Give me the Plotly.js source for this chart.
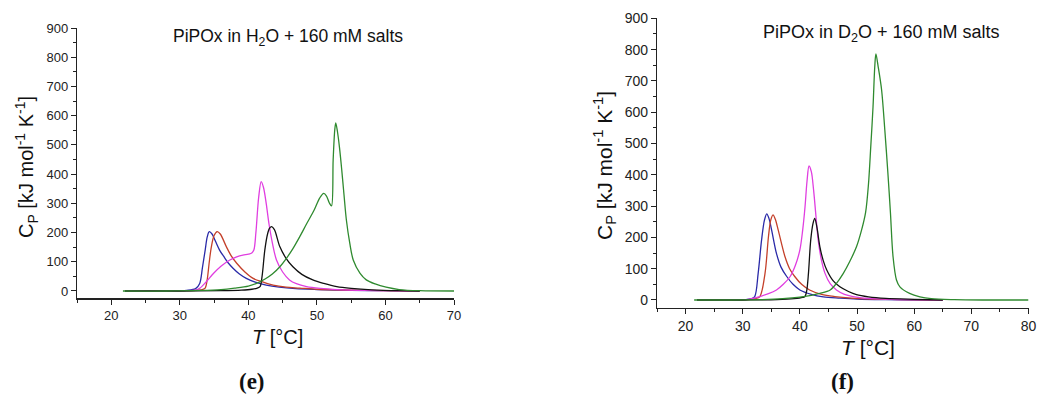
<!DOCTYPE html>
<html>
<head>
<meta charset="utf-8">
<script src="https://cdn.plot.ly/plotly-3.0.1.min.js"></script>
<style>
html,body{margin:0;padding:0;background:#fff;}
#chart{width:1045px;height:396px;}
</style>
</head>
<body>
<div id="chart"></div>
<script>
// ---------- Panel (e): PiPOx in H2O + 160 mM salts ----------
const h2oBlueT  = [22, 28, 31, 32.3, 32.9, 33.3, 33.7, 34.0, 34.3, 34.7, 35.2, 35.8, 36.5, 37.1, 37.8, 38.7, 39.7, 41, 42.6, 44.5, 46.9, 50, 55, 60, 65];
const h2oBlueCp = [0, 0, 2, 8, 26, 80, 140, 185, 203, 195, 170, 140, 115, 95, 77, 58, 43, 30, 20, 13, 8, 5, 2, 1, 0];

const h2oRedT  = [22, 28, 31, 32.8, 33.3, 33.7, 34.0, 34.3, 34.6, 35.0, 35.45, 35.9, 36.8, 37.5, 38.3, 39.5, 40.7, 42.2, 43.6, 45.5, 47.5, 50, 55, 60, 65];
const h2oRedCp = [0, 0, 1, 3, 5, 10, 40, 100, 151, 190, 203, 195, 151, 120, 95, 65, 43, 30, 20, 13, 10, 6, 3, 1, 0];

const h2oMagT  = [22, 28, 31, 32.3, 32.9, 33.8, 34.9, 36, 37.3, 38.3, 39.2, 40.0, 40.5, 40.8, 41.1, 41.5, 41.87, 42.2, 42.6, 43.0, 43.5, 44.1, 45, 46, 47, 48.5, 50.5, 53, 57, 61, 65];
const h2oMagCp = [0, 0, 1, 3, 9, 30, 60, 85, 106, 117, 123, 126, 130, 140, 200, 320, 374, 355, 300, 231, 165, 106, 65, 38, 25, 15, 9, 5, 2, 1, 0];

const h2oBlackT  = [22, 30, 36, 39, 40.5, 41.3, 41.7, 42.0, 42.4, 42.8, 43.1, 43.4, 43.8, 44.6, 45.5, 46.5, 47.8, 49.4, 51, 52.9, 55, 58, 62, 65];
const h2oBlackCp = [0, 0, 1, 3, 6, 10, 15, 50, 140, 195, 215, 220, 210, 151, 112, 83, 57, 38, 26, 15, 9, 4, 1, 0];

const h2oGreenT  = [21.7, 28, 33, 36, 38, 40, 41.2, 42.5, 43.5, 44.6, 45.5, 46.5, 47.5, 48.5, 49.6, 50.4, 51.0, 51.4, 51.8, 52.13, 52.37, 52.6, 52.75, 53.0, 53.3, 53.6, 53.95, 54.3, 54.8, 55.3, 56.3, 57.2, 58.5, 60.1, 62, 65, 70];
const h2oGreenCp = [0, 0, 2, 5, 10, 17, 26, 42, 58, 83, 110, 145, 186, 230, 277, 318, 334, 325, 302, 291, 448, 550, 575, 545, 490, 420, 330, 243, 163, 106, 60, 38, 24, 13, 5, 1, 0];

// ---------- Panel (f): PiPOx in D2O + 160 mM salts ----------
const d2oBlueT  = [22, 28, 30.5, 31.5, 32.1, 32.7, 33.3, 33.8, 34.2, 34.6, 35.05, 35.9, 36.7, 37.7, 38.8, 40.0, 42, 44.1, 47, 50, 55, 60, 65];
const d2oBlueCp = [0, 0, 1, 4, 11, 85, 192, 255, 275, 260, 224, 149, 105, 75, 50, 32, 18, 10, 6, 3, 1, 0, 0];

const d2oRedT  = [22, 28, 31, 32.2, 33.0, 33.9, 34.5, 34.9, 35.3, 35.7, 36.2, 37.4, 38.2, 39.1, 40.3, 41.7, 43.8, 46.1, 49, 53, 58, 65];
const d2oRedCp = [0, 0, 1, 4, 11, 85, 202, 255, 272, 258, 224, 138, 100, 75, 50, 32, 18, 11, 6, 3, 1, 0];

const d2oMagT  = [22, 28, 31, 33, 34.5, 35.9, 37.1, 38.3, 39.2, 40.0, 40.5, 40.9, 41.25, 41.6, 42.0, 42.4, 42.8, 43.2, 43.8, 44.4, 45.3, 46.4, 47.8, 49.3, 52, 56, 60, 65];
const d2oMagCp = [0, 0, 2, 11, 20, 32, 50, 75, 110, 160, 225, 298, 380, 428, 410, 351, 270, 192, 125, 85, 52, 32, 18, 11, 5, 2, 1, 0];

const d2oBlackT  = [22, 30, 36, 39, 40.5, 40.9, 41.2, 41.5, 41.9, 42.3, 42.6, 43.0, 43.5, 44.1, 44.7, 45.8, 47.0, 48.5, 49.9, 52, 55, 60, 65];
const d2oBlackCp = [0, 0, 1, 4, 8, 11, 30, 85, 192, 245, 261, 230, 170, 125, 96, 62, 42, 27, 17, 10, 5, 2, 0];

const d2oGreenT  = [21.5, 28, 33, 37, 40, 42, 43.5, 45.3, 46.4, 47.6, 48.7, 49.9, 50.8, 51.5, 52.0, 52.4, 52.8, 53.1, 53.3, 53.7, 54.3, 54.86, 55.4, 55.85, 56.3, 56.9, 57.5, 59.2, 61, 63, 67, 72, 80];
const d2oGreenCp = [0, 0, 1, 4, 9, 15, 21, 32, 53, 85, 122, 170, 224, 280, 370, 490, 618, 745, 786, 745, 671, 543, 405, 277, 138, 64, 42, 21, 10, 4, 1, 0, 0];

// tick values
const xTicksE = [20, 30, 40, 50, 60, 70];
const xTicksF = [20, 30, 40, 50, 60, 70, 80];
const yTicks  = [0, 100, 200, 300, 400, 500, 600, 700, 800, 900];

const COL = {blue:'#2a2aa8', red:'#c4402a', mag:'#e03ee0', black:'#111111', green:'#2f8a2f'};

function tr(x, y, c, xa, ya){
  return {x:x, y:y, type:'scatter', mode:'lines', xaxis:xa, yaxis:ya,
          line:{color:c, width:1.3, shape:'spline', smoothing:0.9}, hoverinfo:'skip', showlegend:false};
}

const data = [
  tr(h2oBlueT, h2oBlueCp, COL.blue, 'x', 'y'),
  tr(h2oRedT, h2oRedCp, COL.red, 'x', 'y'),
  tr(h2oMagT, h2oMagCp, COL.mag, 'x', 'y'),
  tr(h2oBlackT, h2oBlackCp, COL.black, 'x', 'y'),
  tr(h2oGreenT, h2oGreenCp, COL.green, 'x', 'y'),
  tr(d2oBlueT, d2oBlueCp, COL.blue, 'x2', 'y2'),
  tr(d2oRedT, d2oRedCp, COL.red, 'x2', 'y2'),
  tr(d2oMagT, d2oMagCp, COL.mag, 'x2', 'y2'),
  tr(d2oBlackT, d2oBlackCp, COL.black, 'x2', 'y2'),
  tr(d2oGreenT, d2oGreenCp, COL.green, 'x2', 'y2')
];

const W = 1045, H = 396;
const px = v => v / W;
const py = v => 1 - v / H;
const tickFont = {family:'Liberation Sans, Arial, sans-serif', size:13, color:'#222'};
const tickFont2 = {family:'Liberation Sans, Arial, sans-serif', size:14, color:'#222'};

function xax(dom, rng, ticks, anchor, f){
  return {domain:dom, range:rng, anchor:anchor, tickmode:'array', tickvals:ticks,
    ticks:'outside', ticklen:5, tickwidth:1, tickcolor:'#222', showline:true, linecolor:'#222', linewidth:1.2,
    showgrid:false, zeroline:false, tickfont:f, fixedrange:true,
    minor:{tickmode:'linear', tick0:15, dtick:10, ticks:'outside', ticklen:3, tickcolor:'#222', showgrid:false}};
}
function yax(dom, anchor, f){
  return {domain:dom, range:[-25, 900], anchor:anchor, tickmode:'array', tickvals:yTicks,
    ticks:'outside', ticklen:5, tickwidth:1, tickcolor:'#222', showline:true, linecolor:'#222', linewidth:1.2,
    showgrid:false, zeroline:false, tickfont:f, fixedrange:true,
    minor:{tickmode:'linear', tick0:50, dtick:100, ticks:'outside', ticklen:3, tickcolor:'#222', showgrid:false}};
}

const sans = 'Liberation Sans, Arial, sans-serif';
const serif = 'Liberation Serif, Times New Roman, serif';
function ann(text, x, y, size, extra){
  return Object.assign({text:text, xref:'paper', yref:'paper', x:px(x), y:py(y), xanchor:'center', yanchor:'middle',
    showarrow:false, font:{family:sans, size:size, color:'#111'}}, extra||{});
}

const yTitle = 'C<sub>P</sub> [kJ mol<sup>-1</sup> K<sup>-1</sup>]';
const layout = {
  width:W, height:H, margin:{l:0, r:0, t:0, b:0},
  paper_bgcolor:'#fff', plot_bgcolor:'#fff', showlegend:false,
  xaxis: xax([px(77), px(454)], [15, 70], xTicksE, 'y', tickFont),
  yaxis: yax([py(298.3), py(28)], 'x', tickFont),
  xaxis2: xax([px(657), px(1028.5)], [15, 80], xTicksF, 'y2', tickFont2),
  yaxis2: yax([py(307.8), py(18.3)], 'x2', tickFont2),
  annotations:[
    ann('PiPOx in H<sub>2</sub>O + 160 mM salts', 288, 38, 17.5),
    ann('PiPOx in D<sub>2</sub>O + 160 mM salts', 881, 33, 18),
    ann(yTitle, 26, 167, 20, {textangle:-90}),
    ann(yTitle, 605, 166, 21, {textangle:-90}),
    ann('<i>T</i> [°C]', 277, 337, 20),
    ann('<i>T</i> [°C]', 868, 347, 21),
    ann('<b>(e)</b>', 252, 381, 23, {font:{family:serif, size:23, color:'#111'}}),
    ann('<b>(f)</b>', 842, 381, 23, {font:{family:serif, size:23, color:'#111'}})
  ]
};

Plotly.newPlot('chart', data, layout, {staticPlot:true, displayModeBar:false});
</script>
</body>
</html>
